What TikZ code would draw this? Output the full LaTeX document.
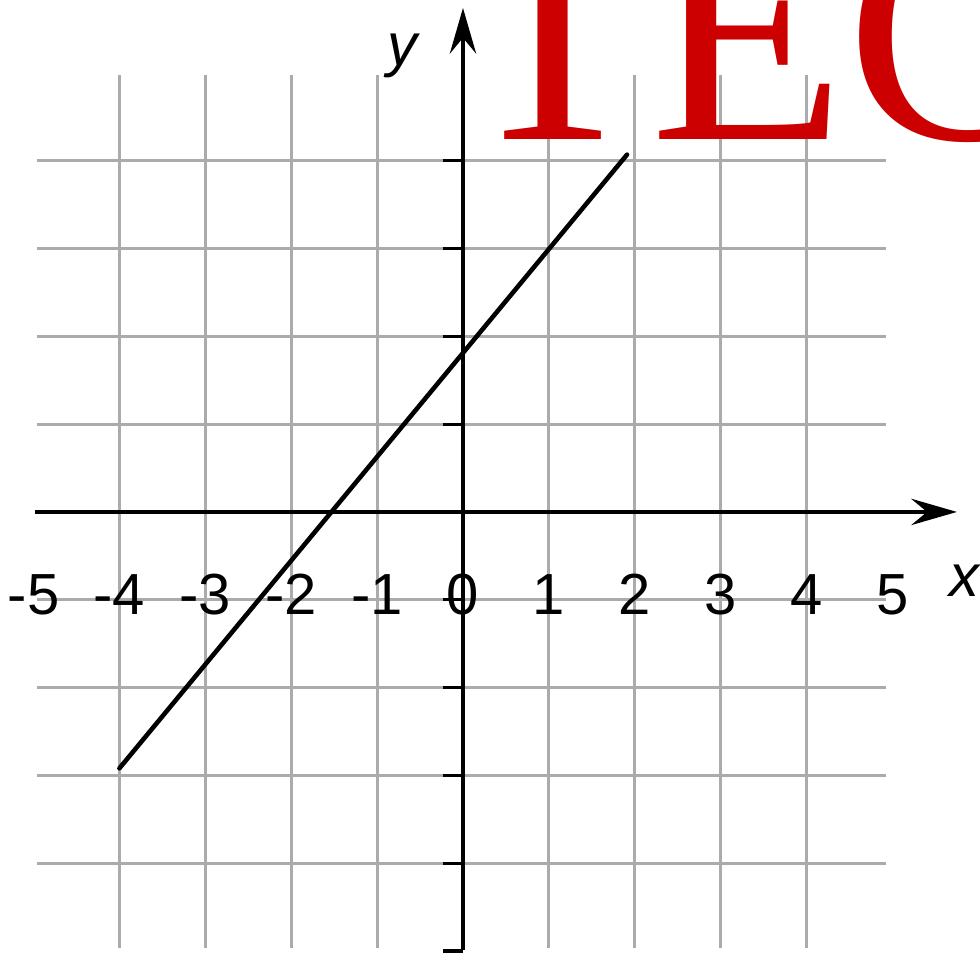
\documentclass[tikz,border=0pt]{standalone}
\usepackage{fontspec}
\setmainfont{Liberation Serif}
\setsansfont{Liberation Sans}
\usetikzlibrary{arrows.meta}
\definecolor{TitleRed}{HTML}{CC0000}
\definecolor{GridGray}{HTML}{ABABAB}
\tikzset{
    % Grid and axes
    gridline/.style={
        draw=GridGray,
        line width=1.7pt
    },
    axis/.style={
        -{Stealth[length=26pt,width=15pt,inset=9pt]},
        line width=1.8pt,
        draw=black
    },
    tickmark/.style={
        line width=1.8pt,
        draw=black
    },
    graphline/.style={
        line width=2.6pt,
        draw=black,
        line cap=round
    },
    % Text styles
    ticklabel/.style={
        font=\sffamily\fontsize{33}{33}\selectfont,
        inner sep=0pt,
        anchor=base
    },
    axislabel/.style={
        font=\sffamily\itshape\fontsize{34}{34}\selectfont,
        inner sep=0pt,
        anchor=base
    },
    banner/.style={
        font=\rmfamily\fontsize{182}{182}\selectfont,
        text=TitleRed,
        inner sep=0pt,
        anchor=base west
    }
}

\begin{document}
\begin{tikzpicture}[x=1.718cm, y=1.756cm]
    \useasboundingbox (-5.39,-5.023) rectangle (6.019,5.831);
    \clip (-5.39,-5.023) rectangle (6.019,5.831);

    % Grid
    \foreach \i in {-4,...,4} {
        \draw[gridline] (-4.96,\i) -- (4.92,\i);
    }
    \foreach \i in {-4,-3,-2,-1,1,2,3,4} {
        \draw[gridline] (\i,4.98) -- (\i,-4.97);
    }

    % Axes
    \coordinate (xstart) at (-4.98,0);
    \coordinate (xend) at (5.75,0);
    \coordinate (ystart) at (0,-4.99);
    \coordinate (yend) at (0,5.74);
    \draw[axis] (xstart) -- (xend);
    \draw[axis] (ystart) -- (yend);
    \foreach \i in {-5,-4,-3,-2,-1,1,2,3,4} {
        \draw[tickmark] (-0.23,\i) -- (0,\i);
    }

    % Tick labels
    \foreach \i in {-5,...,5} {
        \node[ticklabel] (lbl\i) at (\i,-1.173) {\i};
    }
    \node[axislabel] (xlbl) at (5.84,-0.968) {x};
    \node[axislabel] (ylbl) at (-0.71,5.08) {y};

    % Graph of the function
    \coordinate (pa) at (-4,-2.92);
    \coordinate (pb) at (1.91,4.07);
    \draw[graphline] (pa) -- (pb);

    % Banner
    \node[banner] (tec) at (-0.093,4.237) {TEC};
\end{tikzpicture}
\end{document}
